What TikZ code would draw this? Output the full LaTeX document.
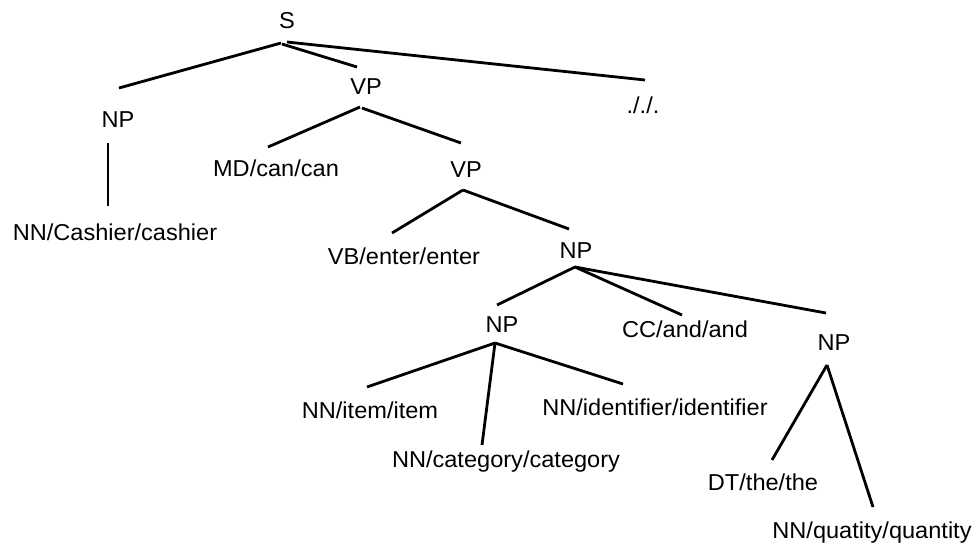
\documentclass[tikz,border=0pt]{standalone}
\usepackage{fontspec}
\setmainfont{Liberation Sans}[FakeStretch=1.025]
\begin{document}
\begin{tikzpicture}[x=1pt,y=-1pt,
  lbl/.style={anchor=base,inner sep=0pt,font=\fontsize{23}{27}\selectfont},
  branch/.style={line width=2.8pt}]
\useasboundingbox[fill=white] (0,0) rectangle (980,547);

% constituent labels, placed on their baselines
\node[lbl] (S)    at (287,28)  {S};
\node[lbl] (NPa)  at (118,127) {NP};
\node[lbl] (VPa)  at (366,94)  {VP};
\node[lbl] (dot)  at (643,113) {././.};
\node[lbl] (MD)   at (276,176) {MD/can/can};
\node[lbl] (VPb)  at (466,177) {VP};
\node[lbl] (cash) at (115,240) {NN/Cashier/cashier};
\node[lbl] (VB)   at (404,264) {VB/enter/enter};
\node[lbl] (NPb)  at (576,258) {NP};
\node[lbl] (NPc)  at (502,332) {NP};
\node[lbl] (CC)   at (685,337) {CC/and/and};
\node[lbl] (NPd)  at (834,350) {NP};
\node[lbl] (item) at (370,418) {NN/item/item};
\node[lbl] (cat)  at (506,467) {NN/category/category};
\node[lbl] (idf)  at (655,415) {NN/identifier/identifier};
\node[lbl] (DT)   at (763,490) {DT/the/the};
\node[lbl] (qty)  at (872,538) {NN/quatity/quantity};

% branches from each parent to its children
\draw[branch] ([shift={(-6,15)}]S.base)   -- ([shift={(1,-39)}]NPa.base);
\draw[branch] ([shift={(-5,16)}]S.base)   -- ([shift={(-9,-27)}]VPa.base);
\draw[branch] ([shift={(0,14)}]S.base)    -- ([shift={(2,-33)}]dot.base);
\draw[branch] ([shift={(-6,13)}]VPa.base) -- ([shift={(-8,-29)}]MD.base);
\draw[branch] ([shift={(-4,14)}]VPa.base) -- ([shift={(-5,-34)}]VPb.base);
\draw[branch] ([shift={(-10,16)}]NPa.base) -- ([shift={(-7,-34)}]cash.base);
\draw[branch] ([shift={(-3,13)}]VPb.base) -- ([shift={(-12,-31)}]VB.base);
\draw[branch] ([shift={(-3,13)}]VPb.base) -- ([shift={(-7,-29)}]NPb.base);
\draw[branch] ([shift={(-1,9)}]NPb.base)  -- ([shift={(-5,-27)}]NPc.base);
\draw[branch] ([shift={(-1,9)}]NPb.base)  -- ([shift={(-3,-22)}]CC.base);
\draw[branch] ([shift={(-1,9)}]NPb.base)  -- ([shift={(-8,-37)}]NPd.base);
\draw[branch] ([shift={(-7,11)}]NPc.base) -- ([shift={(-3,-31)}]item.base);
\draw[branch] ([shift={(-7,11)}]NPc.base) -- ([shift={(-24,-22)}]cat.base);
\draw[branch] ([shift={(-7,11)}]NPc.base) -- ([shift={(-32,-31)}]idf.base);
\draw[branch] ([shift={(-7,15)}]NPd.base) -- ([shift={(9,-30)}]DT.base);
\draw[branch] ([shift={(-7,15)}]NPd.base) -- ([shift={(1,-31)}]qty.base);
\end{tikzpicture}
\end{document}
